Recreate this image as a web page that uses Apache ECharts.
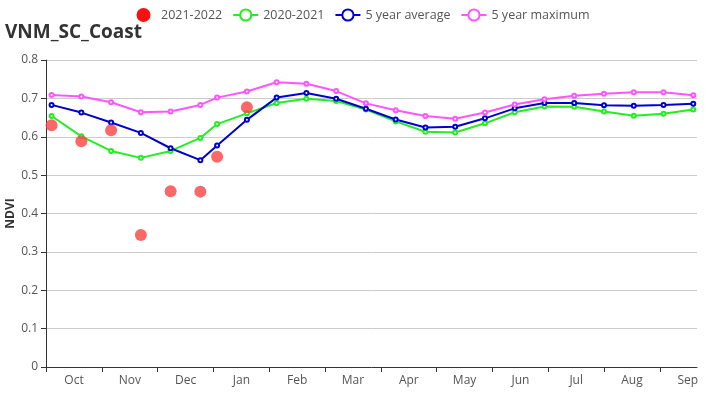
<!DOCTYPE html>
<html>
<head>
<meta charset="utf-8">
<script src="https://cdn.jsdelivr.net/npm/echarts@6/dist/echarts.min.js"></script>
<style>html,body{margin:0;padding:0;background:#fff}#c{width:726px;height:400px}</style>
</head>
<body>
<div id="c"></div>
<script>
// x positions in days from season start
var days = [3, 19, 35, 51, 67, 83, 92, 108, 124, 140, 156, 172, 188, 204, 220, 236, 252, 268, 284, 300, 316, 332, 348];
var monthLabels = ['Oct','Nov','Dec','Jan','Feb','Mar','Apr','May','Jun','Jul','Aug','Sep'];
var monthTicks = [0, 30, 60, 90, 120, 150, 180, 210, 240, 270, 300, 330];
var cur = [0.630, 0.588, 0.617, 0.344, 0.458, 0.457, 0.548, 0.677];
var prev = [0.654, 0.601, 0.563, 0.545, 0.563, 0.597, 0.633, 0.661, 0.688, 0.699, 0.693, 0.671, 0.640, 0.613, 0.611, 0.635, 0.664, 0.679, 0.678, 0.666, 0.655, 0.660, 0.671];
var avg5 = [0.683, 0.663, 0.637, 0.610, 0.570, 0.539, 0.577, 0.644, 0.702, 0.714, 0.699, 0.673, 0.645, 0.624, 0.626, 0.648, 0.674, 0.688, 0.688, 0.682, 0.681, 0.683, 0.686];
var max5 = [0.709, 0.705, 0.690, 0.664, 0.666, 0.683, 0.702, 0.718, 0.742, 0.738, 0.719, 0.687, 0.669, 0.654, 0.647, 0.663, 0.684, 0.698, 0.707, 0.712, 0.716, 0.716, 0.708];

function pairs(vals){ return vals.map(function(v,i){ return [days[i], v]; }); }

var chart = echarts.init(document.getElementById('c'), null, {renderer:'canvas'});
var FONT = '"Open Sans", "Noto Sans", sans-serif';
var lineCommon = function(name, color, vals){
  return {
    name: name, type: 'line', data: pairs(vals),
    symbol: 'emptyCircle', symbolSize: 4, showSymbol: true,
    lineStyle: {color: color, width: 2},
    itemStyle: {color: color, borderWidth: 1},
    emphasis: {disabled: true},
    animation: false
  };
};
chart.setOption({
  animation: false,
  textStyle: {fontFamily: FONT},
  title: {
    text: 'VNM_SC_Coast', left: 0, top: 18,
    textStyle: {fontSize: 19, fontWeight: 'bold', color: '#333', fontFamily: FONT}
  },
  legend: {
    top: 3, left: 'center', itemWidth: 25, itemHeight: 14, itemGap: 10,
    textStyle: {fontSize: 12.5, color: '#555', fontFamily: FONT},
    data: [
      {name: '2021-2022', icon: 'circle', itemStyle: {color: '#ff1010', opacity: 1}},
      {name: '2020-2021'},
      {name: '5 year average'},
      {name: '5 year maximum'}
    ]
  },
  grid: {left: 46, right: 29, top: 60, bottom: 33, containLabel: false, outerBoundsMode: 'none'},
  xAxis: {
    type: 'value', min: 0, max: 350, interval: 30,
    axisLine: {show: true, lineStyle: {color: '#333'}},
    axisTick: {show: true, customValues: monthTicks, lineStyle: {color: '#333'}},
    splitLine: {show: false},
    axisLabel: {
      customValues: monthTicks,
      color: '#555', fontSize: 12, fontFamily: FONT, align: 'left',
      formatter: function(v){ var i = Math.round(v/30); return '{m|' + (monthLabels[i] || '') + '}'; },
      rich: {m: {width: 56, align: 'center', fontSize: 12, color: '#555', fontFamily: FONT}}
    }
  },
  yAxis: {
    type: 'value', min: 0, max: 0.8, interval: 0.1,
    name: 'NDVI', nameLocation: 'middle', nameGap: 29, nameRotate: 90, nameMoveOverlap: false,
    nameTextStyle: {fontWeight: 'bold', fontSize: 12, color: '#333', fontFamily: FONT},
    axisLine: {show: true, lineStyle: {color: '#333'}},
    axisTick: {show: true, lineStyle: {color: '#333'}},
    axisLabel: {color: '#555', fontSize: 12, fontFamily: FONT, formatter: function(v){ return String(Math.round(v*10)/10); }},
    splitLine: {show: true, lineStyle: {color: '#ccc'}}
  },
  series: [
    {
      name: '2021-2022', type: 'scatter', data: pairs(cur), symbolSize: 12,
      itemStyle: {color: '#fb4242'}, z: 5, emphasis: {disabled: true}
    },
    lineCommon('2020-2021', '#22ee22', prev),
    lineCommon('5 year average', '#0000cc', avg5),
    lineCommon('5 year maximum', '#ff55ff', max5)
  ]
});
</script>
</body>
</html>
